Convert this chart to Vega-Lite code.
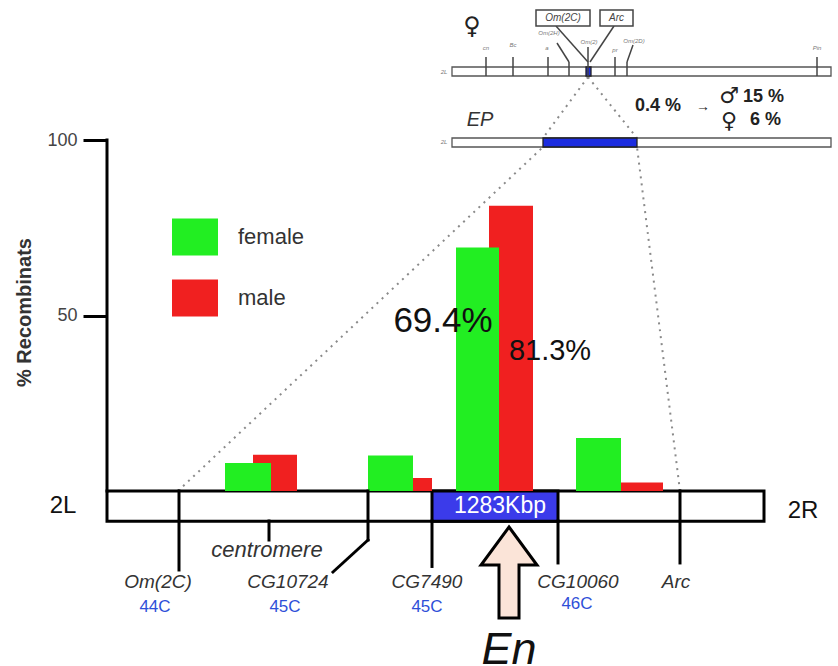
{
  "$schema": "https://vega.github.io/schema/vega-lite/v6.json",
  "width": 838,
  "height": 666,
  "autosize": {"type": "none"},
  "padding": 0,
  "background": "white",
  "config": {"view": {"stroke": null}, "font": "Liberation Sans"},
  "resolve": {"axis": {"x": "independent", "y": "independent"}},
  "datasets": {
    "bars": [
      {"interval": "Om(2C)-CG10724", "sex": "male", "start": 253, "end": 297, "pct": 10.3},
      {"interval": "CG10724-CG7490", "sex": "male", "start": 413, "end": 432, "pct": 3.7},
      {"interval": "CG7490-CG10060", "sex": "male", "start": 489, "end": 533, "pct": 81.3},
      {"interval": "CG10060-Arc", "sex": "male", "start": 621, "end": 663, "pct": 2.4},
      {"interval": "Om(2C)-CG10724", "sex": "female", "start": 225, "end": 271, "pct": 8.0},
      {"interval": "CG10724-CG7490", "sex": "female", "start": 368, "end": 413, "pct": 10.1},
      {"interval": "CG7490-CG10060", "sex": "female", "start": 456, "end": 499, "pct": 69.4},
      {"interval": "CG10060-Arc", "sex": "female", "start": 576, "end": 621, "pct": 15.1}
    ],
    "dotted": [
      {"x1": 178, "y1": 0, "x2": 543, "y2": 98.0},
      {"x1": 680, "y1": 0, "x2": 637, "y2": 98.0},
      {"x1": 588, "y1": 117.95, "x2": 543, "y2": 100.57},
      {"x1": 588, "y1": 117.95, "x2": 637, "y2": 100.57}
    ],
    "topBars": [
      {"name": "2L", "x1": 452, "x2": 831, "y1": 120.8, "y2": 118.23},
      {"name": "EP", "x1": 452, "x2": 831, "y1": 100.57, "y2": 98.01}
    ],
    "topBlue": [
      {"name": "site", "x1": 586, "x2": 591, "y1": 120.8, "y2": 118.23},
      {"name": "EP", "x1": 543, "x2": 637, "y1": 100.57, "y2": 98.01}
    ],
    "topLines": [
      {"x1": 486, "y1": 123.65, "x2": 486, "y2": 118.23},
      {"x1": 513, "y1": 123.65, "x2": 513, "y2": 118.23},
      {"x1": 548, "y1": 123.65, "x2": 548, "y2": 118.23},
      {"x1": 569, "y1": 122.22, "x2": 569, "y2": 118.23},
      {"x1": 557, "y1": 127.64, "x2": 569, "y2": 122.22},
      {"x1": 615, "y1": 123.65, "x2": 615, "y2": 118.23},
      {"x1": 627, "y1": 122.22, "x2": 627, "y2": 118.23},
      {"x1": 627, "y1": 122.22, "x2": 633, "y2": 127.07},
      {"x1": 817, "y1": 123.65, "x2": 817, "y2": 118.23},
      {"x1": 556, "y1": 132.48, "x2": 588, "y2": 122.22},
      {"x1": 614, "y1": 132.48, "x2": 590, "y2": 122.22},
      {"x1": 588, "y1": 126.5, "x2": 588, "y2": 118.23}
    ],
    "labelBoxes": [
      {"label": "Om(2C)", "x1": 536, "x2": 590, "y1": 137.04, "y2": 132.48, "xc": 563, "yc": 134.76},
      {"label": "Arc", "x1": 600, "x2": 633, "y1": 137.04, "y2": 132.48, "xc": 616.5, "yc": 134.76}
    ],
    "tinyLabels": [
      {"label": "cn", "x": 486, "y": 126.2},
      {"label": "Bc", "x": 513, "y": 127.0},
      {"label": "a", "x": 547, "y": 126.2},
      {"label": "Om(2H)", "x": 549, "y": 130.5},
      {"label": "Om(2)", "x": 589, "y": 128.0},
      {"label": "pr", "x": 615, "y": 125.6},
      {"label": "Om(2D)", "x": 634, "y": 128.2},
      {"label": "Pin", "x": 817, "y": 126.2},
      {"label": "2L", "x": 444, "y": 119.5},
      {"label": "2L", "x": 444, "y": 99.3}
    ],
    "chromosome": [{"arm": "2", "x1": 107, "x2": 764, "y1": 0, "y2": -8.6}],
    "region": [{"size": "1283Kbp", "x1": 432, "x2": 558, "y1": 0, "y2": -8.6, "xc": 500, "yc": -4.4}],
    "markers": [
      {"x1": 107, "y1": 0, "x2": 107, "y2": 100},
      {"x1": 179, "y1": 0, "x2": 179, "y2": -22.5},
      {"x1": 368, "y1": 0, "x2": 368, "y2": -13.96},
      {"x1": 368, "y1": -13.96, "x2": 333, "y2": -23.08},
      {"x1": 269, "y1": -8.55, "x2": 269, "y2": -13.96},
      {"x1": 432, "y1": -8.55, "x2": 432, "y2": -21.5},
      {"x1": 558, "y1": -8.55, "x2": 558, "y2": -20.5},
      {"x1": 680, "y1": 0, "x2": 680, "y2": -20.5}
    ],
    "arrow": [{"gene": "En", "x": 509, "y": -23.22}],
    "genes": [
      {"label": "Om(2C)", "x": 158, "y": -26.0},
      {"label": "CG10724", "x": 288, "y": -26.0},
      {"label": "CG7490", "x": 427, "y": -26.0},
      {"label": "CG10060", "x": 578, "y": -26.0},
      {"label": "Arc", "x": 676, "y": -26.0}
    ],
    "bands": [
      {"label": "44C", "x": 155, "y": -33.05},
      {"label": "45C", "x": 285, "y": -33.05},
      {"label": "45C", "x": 427, "y": -33.05},
      {"label": "46C", "x": 577, "y": -32.3}
    ],
    "arms": [
      {"label": "2L", "x": 63, "y": -4.4},
      {"label": "2R", "x": 803, "y": -5.7}
    ],
    "rates": [
      {"label": "0.4 %", "x": 635, "y": 109.69},
      {"label": "15 %", "x": 743, "y": 112.25},
      {"label": "6 %", "x": 750, "y": 105.7}
    ],
    "sexSymbols": [
      {"label": "♂", "x": 729, "y": 112.6},
      {"label": "♀", "x": 729, "y": 105.5}
    ]
  },
  "layer": [
    {
      "data": {"name": "bars"},
      "mark": {"type": "rect", "opacity": 0},
      "encoding": {
        "x": {"field": "start", "type": "quantitative", "scale": {"domain": [0, 838], "nice": false, "zero": false}, "axis": null},
        "y": {
          "field": "pct",
          "type": "quantitative",
          "scale": {"domain": [-49.86, 139.89], "nice": false, "zero": false},
          "axis": {
            "values": [50, 100],
            "offset": -107,
            "domain": false,
            "grid": false,
            "ticks": true,
            "tickSize": 24,
            "tickWidth": 3,
            "tickColor": "black",
            "labelFontSize": 18,
            "labelColor": "#444",
            "labelPadding": 6,
            "labelFont": "Liberation Sans",
            "title": "% Recombinats",
            "titleFont": "Liberation Sans",
            "titleFontSize": 20,
            "titleFontWeight": "bold",
            "titleColor": "#333",
            "titleAngle": -90,
            "titleX": -83,
            "titleY": 312,
            "titleAlign": "center",
            "titleBaseline": "middle"
          }
        }
      }
    },
    {
      "data": {"name": "dotted"},
      "mark": {"type": "rule", "color": "#8a8a8a", "strokeWidth": 2, "strokeDash": [2, 5]},
      "encoding": {
        "x": {"field": "x1", "type": "quantitative", "axis": null},
        "y": {"field": "y1", "type": "quantitative", "axis": null},
        "x2": {"field": "x2"},
        "y2": {"field": "y2"}
      }
    },
    {
      "data": {"name": "topBars"},
      "mark": {"type": "rect", "fill": "white", "stroke": "#555", "strokeWidth": 1.3},
      "encoding": {
        "x": {"field": "x1", "type": "quantitative", "axis": null},
        "x2": {"field": "x2"},
        "y": {"field": "y1", "type": "quantitative", "axis": null},
        "y2": {"field": "y2"}
      }
    },
    {
      "data": {"name": "topBlue"},
      "mark": {"type": "rect", "fill": "#1c2de0", "stroke": "#222", "strokeWidth": 1.3},
      "encoding": {
        "x": {"field": "x1", "type": "quantitative", "axis": null},
        "x2": {"field": "x2"},
        "y": {"field": "y1", "type": "quantitative", "axis": null},
        "y2": {"field": "y2"}
      }
    },
    {
      "data": {"name": "topLines"},
      "mark": {"type": "rule", "color": "#444", "strokeWidth": 1.5},
      "encoding": {
        "x": {"field": "x1", "type": "quantitative", "axis": null},
        "y": {"field": "y1", "type": "quantitative", "axis": null},
        "x2": {"field": "x2"},
        "y2": {"field": "y2"}
      }
    },
    {
      "data": {"name": "labelBoxes"},
      "mark": {"type": "rect", "fill": "white", "stroke": "#444", "strokeWidth": 1.5},
      "encoding": {
        "x": {"field": "x1", "type": "quantitative", "axis": null},
        "x2": {"field": "x2"},
        "y": {"field": "y1", "type": "quantitative", "axis": null},
        "y2": {"field": "y2"}
      }
    },
    {
      "data": {"name": "labelBoxes"},
      "mark": {"type": "text", "fontSize": 10, "fontStyle": "italic", "color": "#444"},
      "encoding": {
        "x": {"field": "xc", "type": "quantitative", "axis": null},
        "y": {"field": "yc", "type": "quantitative", "axis": null},
        "text": {"field": "label"}
      }
    },
    {
      "data": {"name": "tinyLabels"},
      "mark": {"type": "text", "fontSize": 6, "fontStyle": "italic", "color": "#777"},
      "encoding": {
        "x": {"field": "x", "type": "quantitative", "axis": null},
        "y": {"field": "y", "type": "quantitative", "axis": null},
        "text": {"field": "label"}
      }
    },
    {
      "data": {"name": "chromosome"},
      "mark": {"type": "rect", "fill": "white", "stroke": "black", "strokeWidth": 3},
      "encoding": {
        "x": {"field": "x1", "type": "quantitative", "axis": null},
        "x2": {"field": "x2"},
        "y": {"field": "y1", "type": "quantitative", "axis": null},
        "y2": {"field": "y2"}
      }
    },
    {
      "data": {"name": "region"},
      "mark": {"type": "rect", "fill": "#3b3bea", "stroke": "black", "strokeWidth": 3},
      "encoding": {
        "x": {"field": "x1", "type": "quantitative", "axis": null},
        "x2": {"field": "x2"},
        "y": {"field": "y1", "type": "quantitative", "axis": null},
        "y2": {"field": "y2"}
      }
    },
    {
      "data": {"name": "bars"},
      "mark": {"type": "rect"},
      "encoding": {
        "x": {"field": "start", "type": "quantitative", "axis": null},
        "x2": {"field": "end"},
        "y": {"field": "pct", "type": "quantitative", "axis": null},
        "y2": {"datum": 0},
        "color": {
          "field": "sex",
          "type": "nominal",
          "scale": {"domain": ["female", "male"], "range": ["#22ee22", "#f02020"]},
          "legend": {
            "orient": "none",
            "legendX": 172,
            "legendY": 214,
            "title": null,
            "padding": 0,
            "symbolType": "M-1,-0.8H1V0.8H-1Z",
            "symbolSize": 2116,
            "symbolStrokeWidth": 0,
            "symbolOpacity": 1,
            "labelFontSize": 22,
            "labelFont": "Liberation Sans",
            "labelColor": "#333",
            "labelOffset": 20,
            "rowPadding": 19
          }
        }
      }
    },
    {
      "data": {"name": "markers"},
      "mark": {"type": "rule", "color": "black", "strokeWidth": 3, "strokeCap": "square"},
      "encoding": {
        "x": {"field": "x1", "type": "quantitative", "axis": null},
        "y": {"field": "y1", "type": "quantitative", "axis": null},
        "x2": {"field": "x2"},
        "y2": {"field": "y2"}
      }
    },
    {
      "data": {"name": "arrow"},
      "mark": {
        "type": "point",
        "shape": "M0,-1L0.615,-0.165L0.22,-0.165L0.22,1L-0.22,1L-0.22,-0.165L-0.615,-0.165Z",
        "size": 8281,
        "filled": true,
        "fill": "#fbe4d8",
        "stroke": "black",
        "strokeWidth": 3,
        "opacity": 1
      },
      "encoding": {
        "x": {"field": "x", "type": "quantitative", "axis": null},
        "y": {"field": "y", "type": "quantitative", "axis": null}
      }
    },
    {
      "data": {"name": "region"},
      "mark": {"type": "text", "fontSize": 23, "color": "white"},
      "encoding": {
        "x": {"field": "xc", "type": "quantitative", "axis": null},
        "y": {"field": "yc", "type": "quantitative", "axis": null},
        "text": {"field": "size"}
      }
    },
    {
      "data": {"values": [{"label": "69.4%", "x": 443, "y": 48.4}]},
      "mark": {"type": "text", "fontSize": 35, "color": "#111"},
      "encoding": {
        "x": {"field": "x", "type": "quantitative", "axis": null},
        "y": {"field": "y", "type": "quantitative", "axis": null},
        "text": {"field": "label"}
      }
    },
    {
      "data": {"values": [{"label": "81.3%", "x": 550, "y": 40.0}]},
      "mark": {"type": "text", "fontSize": 29, "color": "#111"},
      "encoding": {
        "x": {"field": "x", "type": "quantitative", "axis": null},
        "y": {"field": "y", "type": "quantitative", "axis": null},
        "text": {"field": "label"}
      }
    },
    {
      "data": {"name": "arms"},
      "mark": {"type": "text", "fontSize": 24, "color": "#111"},
      "encoding": {
        "x": {"field": "x", "type": "quantitative", "axis": null},
        "y": {"field": "y", "type": "quantitative", "axis": null},
        "text": {"field": "label"}
      }
    },
    {
      "data": {"values": [{"label": "centromere", "x": 267, "y": -16.81}]},
      "mark": {"type": "text", "fontSize": 22, "fontStyle": "italic", "color": "#333"},
      "encoding": {
        "x": {"field": "x", "type": "quantitative", "axis": null},
        "y": {"field": "y", "type": "quantitative", "axis": null},
        "text": {"field": "label"}
      }
    },
    {
      "data": {"name": "genes"},
      "mark": {"type": "text", "fontSize": 19, "fontStyle": "italic", "color": "#333"},
      "encoding": {
        "x": {"field": "x", "type": "quantitative", "axis": null},
        "y": {"field": "y", "type": "quantitative", "axis": null},
        "text": {"field": "label"}
      }
    },
    {
      "data": {"name": "bands"},
      "mark": {"type": "text", "fontSize": 17, "color": "#2f4fd8"},
      "encoding": {
        "x": {"field": "x", "type": "quantitative", "axis": null},
        "y": {"field": "y", "type": "quantitative", "axis": null},
        "text": {"field": "label"}
      }
    },
    {
      "data": {"name": "arrow"},
      "mark": {"type": "text", "fontSize": 45, "fontStyle": "italic", "color": "#111", "baseline": "alphabetic"},
      "encoding": {
        "x": {"field": "x", "type": "quantitative", "axis": null},
        "y": {"datum": -49.2, "type": "quantitative", "axis": null},
        "text": {"field": "gene"}
      }
    },
    {
      "data": {"values": [{"label": "♀", "x": 472, "y": 132.19}]},
      "mark": {"type": "text", "fontSize": 24, "font": "DejaVu Sans", "fontWeight": "bold", "color": "#222"},
      "encoding": {
        "x": {"field": "x", "type": "quantitative", "axis": null},
        "y": {"field": "y", "type": "quantitative", "axis": null},
        "text": {"field": "label"}
      }
    },
    {
      "data": {"values": [{"label": "EP", "x": 480, "y": 105.7}]},
      "mark": {"type": "text", "fontSize": 20, "fontStyle": "italic", "color": "#333"},
      "encoding": {
        "x": {"field": "x", "type": "quantitative", "axis": null},
        "y": {"field": "y", "type": "quantitative", "axis": null},
        "text": {"field": "label"}
      }
    },
    {
      "data": {"name": "rates"},
      "mark": {"type": "text", "fontSize": 18, "fontWeight": "bold", "align": "left", "color": "#222"},
      "encoding": {
        "x": {"field": "x", "type": "quantitative", "axis": null},
        "y": {"field": "y", "type": "quantitative", "axis": null},
        "text": {"field": "label"}
      }
    },
    {
      "data": {"values": [{"label": "→", "x": 703, "y": 109.4}]},
      "mark": {"type": "text", "fontSize": 14, "fontWeight": "bold", "color": "#222"},
      "encoding": {
        "x": {"field": "x", "type": "quantitative", "axis": null},
        "y": {"field": "y", "type": "quantitative", "axis": null},
        "text": {"field": "label"}
      }
    },
    {
      "data": {"name": "sexSymbols"},
      "mark": {"type": "text", "fontSize": 22, "font": "DejaVu Sans", "fontWeight": "bold", "color": "#222"},
      "encoding": {
        "x": {"field": "x", "type": "quantitative", "axis": null},
        "y": {"field": "y", "type": "quantitative", "axis": null},
        "text": {"field": "label"}
      }
    }
  ]
}
